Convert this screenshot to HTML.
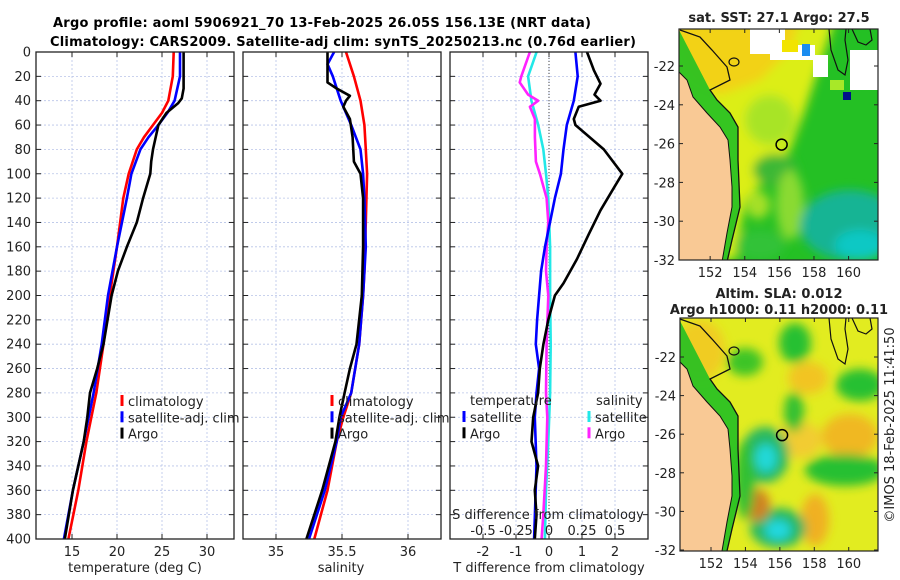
<!DOCTYPE html>
<html><head><meta charset="utf-8">
<style>
html,body{margin:0;padding:0;background:#fff;}
svg{display:block;font-family:"DejaVu Sans","Liberation Sans",sans-serif;}
</style></head>
<body>
<svg id="fig" width="900" height="580" viewBox="0 0 900 580" xmlns="http://www.w3.org/2000/svg">
<defs>
<filter id="blur6" x="-20%" y="-20%" width="140%" height="140%"><feGaussianBlur stdDeviation="5"/></filter>
<clipPath id="cm1"><rect x="679" y="29" width="199" height="231"/></clipPath>
<clipPath id="cm2"><rect x="680" y="318" width="198" height="233"/></clipPath>
</defs>
<text x="322" y="27" text-anchor="middle" font-size="13" font-weight="bold" textLength="538">Argo profile: aoml 5906921_70 13-Feb-2025 26.05S 156.13E (NRT data)</text>
<text x="343" y="46" text-anchor="middle" font-size="13" font-weight="bold" textLength="586">Climatology: CARS2009. Satellite-adj clim: synTS_20250213.nc (0.76d earlier)</text>
<g id="plots"></g>
<g id="maps"></g>
<text transform="translate(894,425) rotate(-90)" text-anchor="middle" font-size="13" fill="#222">©IMOS 18-Feb-2025 11:41:50</text>
</svg>
<script>
// ---- data ----
const depthTicks = [0,20,40,60,80,100,120,140,160,180,200,220,240,260,280,300,320,340,360,380,400];
const tTicks = [15,20,25,30];
const sTicks = [35,35.5,36];
const dTicks = [-2,-1,0,1,2];
const dTickLabels = ['-2','-1','0','1','2'];
const sdTicks = [-0.5,-0.25,0,0.25,0.5];
const sdTickLabels = ['-0.5','-0.25','0','0.25','0.5'];

const tClimDepth = [0,20,40,50,60,70,80,100,120,160,200,240,280,320,360,400];
const tClim      = [26.3,26.2,25.7,25.0,24.0,23.0,22.2,21.3,20.7,20.0,19.2,18.5,17.7,16.6,15.7,14.6];
const tSatDepth  = [0,20,40,50,60,70,80,100,120,160,200,240,280,320,360,400];
const tSat       = [27.0,27.0,26.4,25.6,24.6,23.5,22.6,21.6,21.1,20.0,19.0,18.3,17.4,16.3,15.1,14.1];
const tArgoDepth = [0,30,38,42,50,60,80,90,100,120,140,160,180,200,240,260,280,300,320,360,400];
const tArgo      = [27.4,27.4,27.2,26.8,25.5,24.6,24.0,23.8,23.7,22.9,22.2,21.1,20.1,19.4,18.5,17.8,17.0,16.7,16.3,15.1,14.2];

const sClimDepth = [0,20,40,60,80,100,140,180,200,240,280,300,320,360,400];
const sClim      = [35.53,35.59,35.64,35.67,35.68,35.69,35.68,35.67,35.66,35.63,35.57,35.51,35.46,35.39,35.29];
const sSatDepth  = [0,10,20,40,60,80,100,120,160,200,240,280,300,320,360,400];
const sSat       = [35.44,35.39,35.43,35.49,35.57,35.64,35.66,35.67,35.68,35.66,35.63,35.57,35.49,35.46,35.37,35.25];
const sArgoDepth = [0,10,25,30,36,40,45,55,70,90,100,120,160,200,240,260,280,300,320,360,400];
const sArgo      = [35.39,35.39,35.39,35.46,35.56,35.53,35.51,35.56,35.58,35.59,35.64,35.66,35.66,35.65,35.61,35.56,35.52,35.48,35.45,35.35,35.23];

const dTSatDepth = [0,20,40,60,80,100,120,140,160,180,220,240,260,280,300,340,400];
const dTSat      = [0.80,0.87,0.75,0.54,0.44,0.36,0.18,0.03,-0.12,-0.24,-0.36,-0.40,-0.30,-0.38,-0.43,-0.38,-0.45];
const dTArgoDepth= [0,15,26,35,40,45,55,60,80,100,110,130,150,170,190,200,220,240,260,280,300,320,340,360,380,400];
const dTArgo     = [1.15,1.36,1.56,1.38,1.56,0.90,0.75,0.80,1.66,2.22,2.00,1.56,1.20,0.85,0.44,0.18,-0.02,-0.17,-0.28,-0.33,-0.48,-0.53,-0.33,-0.43,-0.38,-0.43];
const dSSatDepth = [0,20,40,60,80,100,120,160,200,240,280,320,360,400];
const dSSat      = [-0.094,-0.158,-0.133,-0.082,-0.043,-0.023,-0.005,0.008,0.008,0.013,0.008,-0.005,-0.023,-0.031];
const dSArgoDepth= [0,20,25,35,40,45,55,70,90,100,120,140,160,180,200,240,280,300,340,380,400];
const dSArgo     = [-0.145,-0.21,-0.222,-0.158,-0.082,-0.145,-0.107,-0.107,-0.099,-0.069,-0.018,-0.005,-0.018,-0.023,-0.005,-0.018,-0.023,-0.013,-0.023,-0.043,-0.056];

const NS='http://www.w3.org/2000/svg';
function mk(tag, attrs, parent){const e=document.createElementNS(NS,tag);for(const k in attrs)e.setAttribute(k,attrs[k]);if(parent)parent.appendChild(e);return e;}
const plots=document.getElementById('plots');
const Y0=52, Y1=539;
function yOf(d){return Y0+(d/400)*(Y1-Y0);}

function panel(name,x0,x1,xmin,xmax){
  const g=mk('g',{},plots);
  
  
  const xs=v=>x0+(v-xmin)/(xmax-xmin)*(x1-x0);
  return {g,xs,x0,x1};
}
function grid(P,xticks){
  depthTicks.forEach(d=>{ if(d>0&&d<400){const l=mk('line',{x1:P.x0,x2:P.x1,y1:yOf(d),y2:yOf(d),stroke:'#b8c4e8','stroke-width':0.8,'stroke-dasharray':'2,2'},P.g);
    
    }
    mk('line',{x1:P.x0,x2:P.x0+5,y1:yOf(d),y2:yOf(d),stroke:'#222'},P.g);
    mk('line',{x1:P.x1,x2:P.x1-5,y1:yOf(d),y2:yOf(d),stroke:'#222'},P.g);
  });
  xticks.forEach(v=>{const x=P.xs(v);
    const l=mk('line',{x1:x,x2:x,y1:Y0,y2:Y1,stroke:'#b8c4e8','stroke-width':0.8,'stroke-dasharray':'2,2'},P.g);
    
    
    mk('line',{x1:x,x2:x,y1:Y1,y2:Y1-5,stroke:'#222'},P.g);
    mk('line',{x1:x,x2:x,y1:Y0,y2:Y0+5,stroke:'#222'},P.g);
  });
}
function frame(P){const r=mk('rect',{x:P.x0,y:Y0,width:P.x1-P.x0,height:Y1-Y0,fill:'none',stroke:'#222','stroke-width':1.3},P.g);
  
  }
function series(P,depths,vals,color,name,scale){
  scale=scale||1;
  const pts=depths.map((d,i)=>P.xs(vals[i]*scale).toFixed(1)+','+yOf(d).toFixed(1)).join(' ');
  const pl=mk('polyline',{points:pts,fill:'none',stroke:color,'stroke-width':2.6,'stroke-linejoin':'round'},P.g);
  
  
}
function text(parent,x,y,s,attrs,name){
  const t=mk('text',Object.assign({x:x,y:y,'font-size':13,fill:'#222'},attrs||{}),parent);
  t.textContent=s;
  
  
  return t;
}
function xtickLabels(P,ticks,labels){ticks.forEach((v,i)=>text(P.g,P.xs(v),556,labels?labels[i]:String(v),{'text-anchor':'middle'},'x-tick-label'));}
function legend(P,x,y,items){
  items.forEach((it,i)=>{
    const yy=y+i*16.3;
    const m=mk('rect',{x:x-1.5,y:yy-6,width:3,height:11,fill:it[1]},P.g);
    
    
    text(P.g,x+6,yy+5,it[0],{},'legend-entry');
  });
}

// panel 1: temperature
const P1=panel('temperature-panel',36,234,11,33);
grid(P1,tTicks);
depthTicks.forEach(d=>text(plots,31,yOf(d)+4.5,String(d),{'text-anchor':'end'},'y-tick-label'));
series(P1,tClimDepth,tClim,'#ff0000','temp-climatology-line');
series(P1,tSatDepth,tSat,'#0000ff','temp-satellite-line');
series(P1,tArgoDepth,tArgo,'#000000','temp-argo-line');
frame(P1);
xtickLabels(P1,tTicks);
text(P1.g,135,572,'temperature (deg C)',{'text-anchor':'middle'},'x-axis-title');
legend(P1,122,401,[['climatology','#ff0000'],['satellite-adj. clim','#0000ff'],['Argo','#000000']]);

// panel 2: salinity
const P2=panel('salinity-panel',243,441,34.75,36.25);
grid(P2,sTicks);
series(P2,sClimDepth,sClim,'#ff0000','sal-climatology-line');
series(P2,sSatDepth,sSat,'#0000ff','sal-satellite-line');
series(P2,sArgoDepth,sArgo,'#000000','sal-argo-line');
frame(P2);
xtickLabels(P2,sTicks);
text(P2.g,341,572,'salinity',{'text-anchor':'middle'},'x-axis-title');
legend(P2,332,401,[['climatology','#ff0000'],['satellite-adj. clim','#0000ff'],['Argo','#000000']]);

// panel 3: differences
const P3=panel('difference-panel',450,648,-3,3);
grid(P3,dTicks);
const zl=mk('line',{x1:P3.xs(0),x2:P3.xs(0),y1:Y0,y2:Y1,stroke:'#444','stroke-dasharray':'1,2'},P3.g);


series(P3,dSSatDepth,dSSat,'#22e8e8','sal-diff-satellite-line',4);
series(P3,dSArgoDepth,dSArgo,'#ff22ff','sal-diff-argo-line',4);
series(P3,dTSatDepth,dTSat,'#0000ff','temp-diff-satellite-line');
series(P3,dTArgoDepth,dTArgo,'#000000','temp-diff-argo-line');
frame(P3);
xtickLabels(P3,dTicks,dTickLabels);
text(P3.g,549,572,'T difference from climatology',{'text-anchor':'middle'},'x-axis-title');
text(P3.g,548,519,'S difference from climatology',{'text-anchor':'middle'},'s-axis-title');
sdTicks.forEach((v,i)=>text(P3.g,P3.xs(v*4),535,sdTickLabels[i],{'text-anchor':'middle'},'s-tick-label'));
text(P3.g,470,405,'temperature',{},'legend-title-temperature');
text(P3.g,596,405,'salinity',{},'legend-title-salinity');
legend(P3,464,417,[['satellite','#0000ff'],['Argo','#000000']]);
legend(P3,589,417,[['satellite','#22e8e8'],['Argo','#ff22ff']]);

// ---- maps ----
const maps=document.getElementById('maps');
function mapAxes(name){
  const g=mk('g',{},maps);
  
  
  return g;
}
function lonX(lon,x0,x1){return x0+(lon-150.2)/(161.7-150.2)*(x1-x0);}
function latY(lat,yat22,yat32){return yat22+(-22-lat)/10*(yat32-yat22);}
function drawMap(g,clip,x0,x1,y0,y1,y22,y32,layers,name){
  const inner=mk('g',{'clip-path':'url(#'+clip+')'},g);
  layers(inner);
  const dy=y0-29;
  const land=[[679,72],[687,80],[693,97],[707,113],[720,127],[728,140],[730,160],[732,187],[732,207],[727,233],[722,262],[679,262]];
  const shelf=[[680,30],[700,37],[712,50],[727,67],[730,80],[710,90],[717,100],[730,113],[738,127],[738,160],[740,207],[732,240],[727,262]];
  const strip=shelf.concat([[722,262],[727,233],[732,207],[732,187],[730,160],[728,140],[720,127],[707,113],[693,97],[687,80],[679,72],[679,30]]);
  const P=a=>a.map(p=>p[0]+','+(p[1]+dy)).join(' ');
  mk('polygon',{points:P(strip.slice(5)),fill:'#22c022',opacity:0.9},inner);
  const l=mk('polygon',{points:P(land),fill:'#f9c995',stroke:'#111','stroke-width':1},inner);
  
  
  mk('polyline',{points:P(shelf),fill:'none',stroke:'#111','stroke-width':1.3},inner);
  mk('polyline',{points:P([[829,29],[831,50],[838,70],[845,75],[848,60],[845,40],[846,29]]),fill:'none',stroke:'#111','stroke-width':1.2},inner);
  mk('polyline',{points:P([[852,29],[858,42],[866,45],[872,40],[870,29]]),fill:'none',stroke:'#111','stroke-width':1.2},inner);
  mk('ellipse',{cx:734,cy:62+dy,rx:5,ry:4,fill:'none',stroke:'#111','stroke-width':1.2},inner);
  const c=mk('circle',{cx:lonX(156.13,x0,x1),cy:latY(-26.05,y22,y32),r:5.5,fill:'none',stroke:'#000','stroke-width':1.5},inner);
  
  
  const f=mk('rect',{x:x0,y:y0,width:x1-x0,height:y1-y0,fill:'none',stroke:'#222','stroke-width':1.2},g);
  
  
  [152,154,156,158,160].forEach(lon=>{const x=lonX(lon,x0,x1);
    mk('line',{x1:x,x2:x,y1:y1,y2:y1-4,stroke:'#222'},g);mk('line',{x1:x,x2:x,y1:y0,y2:y0+4,stroke:'#222'},g);
    text(g,x,y1+17,String(lon),{'text-anchor':'middle'},'map-lon-label');});
  [-22,-24,-26,-28,-30,-32].forEach(lat=>{const y=latY(lat,y22,y32);
    mk('line',{x1:x0,x2:x0+4,y1:y,y2:y,stroke:'#222'},g);mk('line',{x1:x1,x2:x1-4,y1:y,y2:y,stroke:'#222'},g);
    text(g,x0-4,y+5,String(lat),{'text-anchor':'end'},'map-lat-label');});
}
// SST map
const g1=mapAxes('sst-map');
text(g1,779,22,'sat. SST: 27.1 Argo: 27.5',{'text-anchor':'middle','font-weight':'bold'},'sst-map-title');
drawMap(g1,'cm1',679,878,29,260,66,260,function(L){
  mk('rect',{x:679,y:29,width:199,height:231,fill:'#24c024'},L);
  const b=mk('g',{filter:'url(#blur6)'},L);
  mk('polygon',{points:'670,20 835,20 818,70 805,110 790,150 770,175 745,200 735,260 670,260',fill:'#dcee14'},b);
  mk('polygon',{points:'670,20 800,20 790,50 760,80 720,95 690,80',fill:'#f2d218'},b);
  mk('ellipse',{cx:770,cy:120,rx:25,ry:25,fill:'#a8e428'},b);
  mk('ellipse',{cx:775,cy:170,rx:22,ry:16,fill:'#3cb836'},b);
  mk('ellipse',{cx:790,cy:205,rx:14,ry:35,fill:'#8ada30'},b);
  mk('ellipse',{cx:758,cy:205,rx:12,ry:14,fill:'#a6e028'},b);
  mk('ellipse',{cx:760,cy:245,rx:25,ry:15,fill:'#30c238'},b);
  mk('ellipse',{cx:850,cy:225,rx:50,ry:35,fill:'#14b494'},b);
  mk('ellipse',{cx:860,cy:245,rx:25,ry:15,fill:'#10c8c4'},b);
  mk('rect',{x:750,y:29,width:35,height:25,fill:'#ffffff'},L);
  mk('rect',{x:770,y:45,width:45,height:15,fill:'#ffffff'},L);
  mk('rect',{x:813,y:55,width:15,height:22,fill:'#ffffff'},L);
  mk('rect',{x:850,y:50,width:28,height:40,fill:'#ffffff'},L);
  mk('rect',{x:782,y:40,width:16,height:12,fill:'#f2e400'},L);
  mk('rect',{x:802,y:44,width:8,height:12,fill:'#1a8cf0'},L);
  mk('rect',{x:843,y:92,width:8,height:8,fill:'#00108a'},L);
  mk('rect',{x:830,y:80,width:14,height:10,fill:'#a8e828'},L);
},'sst-map');
// SLA map
const g2=mapAxes('sla-map');
text(g2,779,298,'Altim. SLA: 0.012',{'text-anchor':'middle','font-weight':'bold'},'sla-map-title');
text(g2,779,314,'Argo h1000: 0.11 h2000: 0.11',{'text-anchor':'middle','font-weight':'bold'},'sla-map-subtitle');
drawMap(g2,'cm2',680,878,318,551,357,550,function(L){
  mk('rect',{x:680,y:318,width:198,height:233,fill:'#e2ec20'},L);
  const b=mk('g',{filter:'url(#blur6)'},L);
  mk('ellipse',{cx:808,cy:378,rx:20,ry:16,fill:'#f2c420'},b);
  mk('ellipse',{cx:850,cy:436,rx:28,ry:22,fill:'#f0b820'},b);
  mk('ellipse',{cx:815,cy:520,rx:14,ry:26,fill:'#f0b020'},b);
  mk('ellipse',{cx:700,cy:350,rx:25,ry:30,fill:'#f0cc20'},b);
  mk('ellipse',{cx:800,cy:440,rx:22,ry:18,fill:'#f2cc30'},b);
  mk('ellipse',{cx:795,cy:343,rx:16,ry:20,fill:'#28c030'},b);
  mk('ellipse',{cx:745,cy:362,rx:18,ry:14,fill:'#3cc428'},b);
  mk('ellipse',{cx:860,cy:385,rx:24,ry:16,fill:'#26c030'},b);
  mk('ellipse',{cx:794,cy:412,rx:10,ry:20,fill:'#30c030'},b);
  mk('ellipse',{cx:765,cy:455,rx:24,ry:28,fill:'#28b860'},b);
  mk('ellipse',{cx:766,cy:458,rx:11,ry:14,fill:'#20d8d8'},b);
  mk('ellipse',{cx:845,cy:470,rx:40,ry:16,fill:'#26c030'},b);
  mk('ellipse',{cx:778,cy:528,rx:28,ry:20,fill:'#28b860'},b);
  mk('ellipse',{cx:778,cy:530,rx:13,ry:10,fill:'#20d8e0'},b);
  mk('ellipse',{cx:757,cy:505,rx:13,ry:16,fill:'#d08020'},b);
  mk('ellipse',{cx:745,cy:480,rx:10,ry:40,fill:'#30c030'},b);
},'sla-map');
</script>
</body></html>
